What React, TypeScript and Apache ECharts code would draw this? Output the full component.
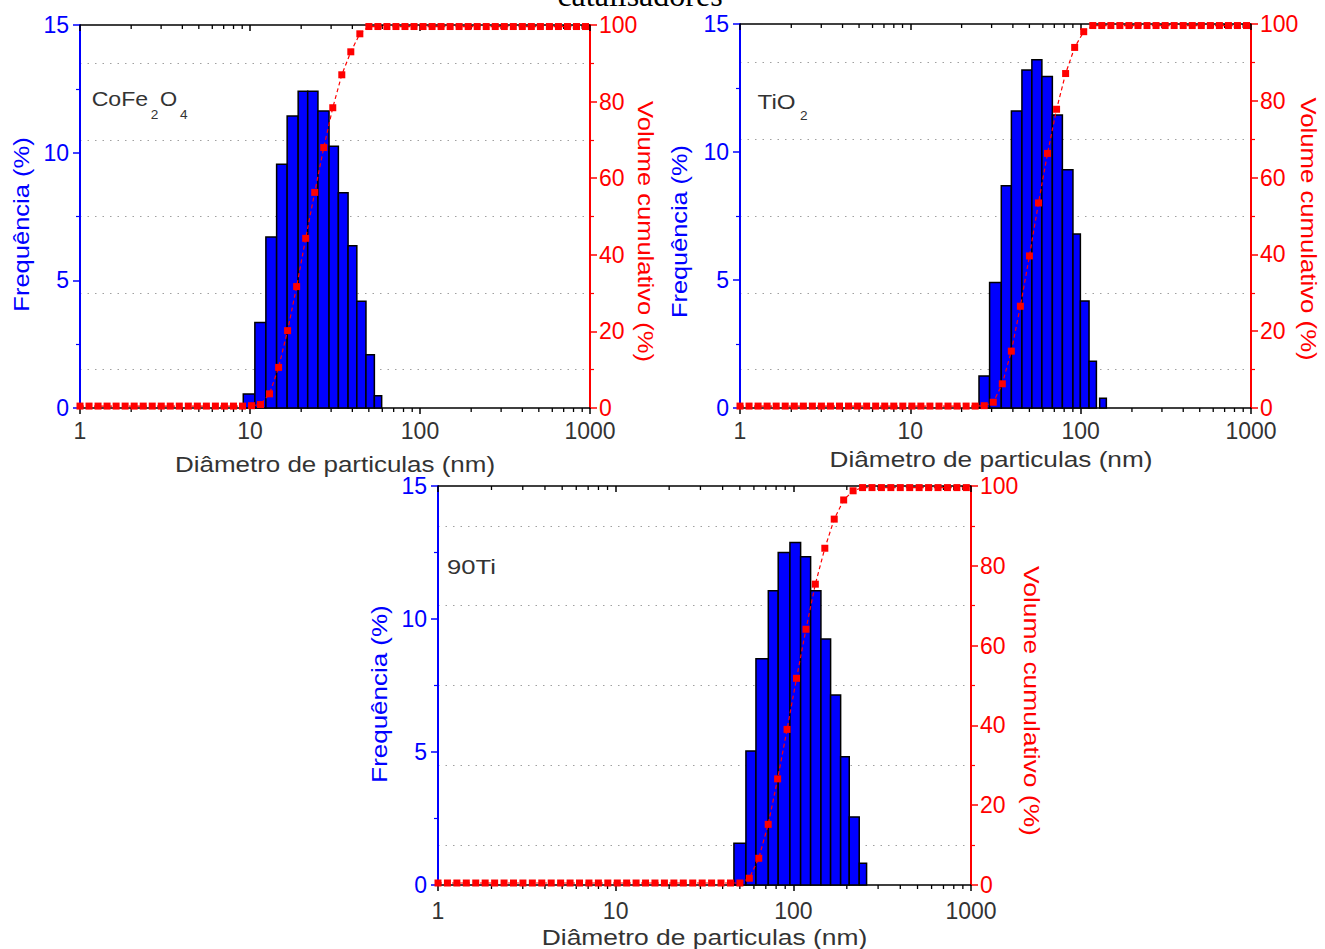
import React, { useEffect, useRef } from "react";
import * as echarts from "echarts";

// ---------- data ----------
// size classes (nm) of the cumulative volume curve (shared by all panels)
const SIZE_CLASSES = [1.0, 1.13, 1.277, 1.443, 1.631, 1.843, 2.083, 2.354, 2.66, 3.006, 3.396, 3.838, 4.337, 4.901, 5.539, 6.259, 7.073, 7.993, 9.033, 10.21, 11.53, 13.03, 14.73, 16.64, 18.81, 21.26, 24.02, 27.15, 30.68, 34.67, 39.17, 44.27, 50.03, 56.54, 63.89, 72.2, 81.59, 92.2, 104.2, 117.8, 133.0, 150.4, 169.9, 192.0, 217.0, 245.2, 277.1, 313.2, 353.9, 399.9, 451.9, 510.7, 577.1, 652.2, 737.0, 832.8, 941.1];

// CoFe2O4
const COFE_LO = [9.13, 10.68, 12.4, 14.34, 16.54, 19.2, 21.85, 25.1, 29.17, 33.1, 37.75, 42.5, 48.1, 53.9];
const COFE_HI = [10.68, 12.4, 14.34, 16.54, 19.2, 21.85, 25.1, 29.17, 33.1, 37.75, 42.5, 48.1, 53.9, 59.5];
const COFE_FREQ = [0.55, 3.35, 6.7, 9.55, 11.44, 12.41, 12.41, 11.63, 10.25, 8.43, 6.35, 4.18, 2.09, 0.48];
const COFE_CUM = [
  0.5, 0.5, 0.5, 0.5, 0.5, 0.5, 0.5, 0.5, 0.5, 0.5, 0.5, 0.5, 0.5, 0.5, 0.5, 0.5, 0.5, 0.5, 0.5,
  0.6, 0.9, 3.7, 10.6, 20.2, 31.7, 44.3, 56.3, 68.0, 78.4, 87.0, 93.0, 97.7, 99.6,
  99.6, 99.6, 99.6, 99.6, 99.6, 99.6, 99.6, 99.6, 99.6, 99.6, 99.6, 99.6,
  99.6, 99.6, 99.6, 99.6, 99.6, 99.6, 99.6, 99.6, 99.6, 99.6, 99.6, 99.6,
];

// TiO2
const TIO2_LO = [25.3, 29.2, 34.2, 39.2, 45.2, 51.7, 59.2, 68.2, 78.1, 90.1, 99.6, 112, 129.3];
const TIO2_HI = [29.2, 34.2, 39.2, 45.2, 51.7, 59.2, 68.2, 78.1, 90.1, 99.6, 112, 123.7, 141.5];
const TIO2_FREQ = [1.25, 4.9, 8.68, 11.6, 13.2, 13.6, 12.95, 11.45, 9.31, 6.8, 4.18, 1.83, 0.38];
const TIO2_CUM = [
  0.5, 0.5, 0.5, 0.5, 0.5, 0.5, 0.5, 0.5, 0.5, 0.5, 0.5, 0.5, 0.5, 0.5, 0.5, 0.5, 0.5, 0.5, 0.5,
  0.5, 0.5, 0.5, 0.5, 0.5, 0.5, 0.5, 0.5,
  0.6, 1.5, 6.3, 14.8, 26.5, 39.6, 53.4, 66.3, 77.8, 87.1, 93.9, 98.0,
  99.6, 99.6, 99.6, 99.6, 99.6, 99.6, 99.6, 99.6, 99.6,
  99.6, 99.6, 99.6, 99.6, 99.6, 99.6, 99.6, 99.6, 99.6,
];

// 90Ti
const TI90_LO = [46.3, 54.1, 61.6, 72.3, 82.2, 95.7, 109.9, 125.1, 143, 162.1, 184.6, 206.4, 234.9];
const TI90_HI = [54.1, 61.6, 72.3, 82.2, 95.7, 109.9, 125.1, 143, 162.1, 184.6, 206.4, 234.9, 258.4];
const TI90_FREQ = [1.57, 5.04, 8.51, 11.06, 12.5, 12.88, 12.34, 11.06, 9.25, 7.14, 4.82, 2.56, 0.82];
const TI90_CUM = [
  0.5, 0.5, 0.5, 0.5, 0.5, 0.5, 0.5, 0.5, 0.5, 0.5, 0.5, 0.5, 0.5, 0.5, 0.5, 0.5, 0.5, 0.5, 0.5,
  0.5, 0.5, 0.5, 0.5, 0.5, 0.5, 0.5, 0.5, 0.5, 0.5, 0.5, 0.5, 0.5, 0.5,
  1.7, 6.7, 15.2, 26.6, 39.0, 51.8, 64.1, 75.4, 84.4, 91.7, 96.5, 98.8,
  99.6, 99.6, 99.6, 99.6, 99.6, 99.6, 99.6, 99.6, 99.6, 99.6, 99.6, 99.6,
];

const X_MINOR_TICKS = [2, 3, 4, 5, 6, 7, 8, 9, 20, 30, 40, 50, 60, 70, 80, 90, 200, 300, 400, 500, 600, 700, 800, 900];

const TITLE = "catalisadores";
const X_NAME = "Diâmetro de particulas (nm)";
const Y_LEFT_NAME = "Frequência (%)";
const Y_RIGHT_NAME = "Volume cumulativo (%)";

// ---------- styling / layout ----------
const FONT = '"Liberation Sans", Arial, Helvetica, sans-serif';
const BLUE = "#0000FF";
const RED = "#FF0000";
const DARK = "#333333";

const PANELS = [
  {
    grid: { left: 80, top: 25, width: 510, height: 383 },
    xMargin: 11,
    lo: COFE_LO, hi: COFE_HI, freq: COFE_FREQ, cum: COFE_CUM,
    xName: { x: 335, y: 464, sx: 1.18 },
    yL: { x: 21, y: 224.5, sx: 1.16 },
    yR: { x: 646, y: 231.5, sx: 1.16 },
  },
  {
    grid: { left: 740, top: 24, width: 511, height: 384 },
    xMargin: 11,
    lo: TIO2_LO, hi: TIO2_HI, freq: TIO2_FREQ, cum: TIO2_CUM,
    xName: { x: 991, y: 459, sx: 1.19 },
    yL: { x: 680, y: 231.5, sx: 1.15 },
    yR: { x: 1309, y: 229, sx: 1.17 },
  },
  {
    grid: { left: 438, top: 486, width: 533, height: 399 },
    xMargin: 14,
    lo: TI90_LO, hi: TI90_HI, freq: TI90_FREQ, cum: TI90_CUM,
    xName: { x: 704.5, y: 937.5, sx: 1.2 },
    yL: { x: 379.5, y: 694, sx: 1.18 },
    yR: { x: 1032, y: 701, sx: 1.2 },
  },
];

function nameText(text: string, x: number, y: number, rot: number, sx: number, color: string) {
  return {
    type: "text",
    x,
    y,
    rotation: rot,
    scaleX: sx,
    silent: true,
    style: {
      text,
      fontSize: 22,
      fontFamily: FONT,
      fill: color,
      align: "center",
      verticalAlign: "middle",
    },
  };
}

function plainText(text: string, x: number, y: number, size: number, sx: number, color = DARK) {
  return {
    type: "text",
    x,
    y,
    scaleX: sx,
    silent: true,
    style: { text, fontSize: size, fontFamily: FONT, fill: color, align: "left", verticalAlign: "middle" },
  };
}

function buildOption() {
  const grid: any[] = [];
  const xAxis: any[] = [];
  const yAxis: any[] = [];
  const series: any[] = [];
  const graphic: any[] = [];

  PANELS.forEach((p, i) => {
    grid.push({ ...p.grid, containLabel: false });
    xAxis.push({
      type: "log",
      logBase: 10,
      min: 1,
      max: 1000,
      gridIndex: i,
      position: "bottom",
      axisLine: { show: true, onZero: false, lineStyle: { color: "#000", width: 1.5 } },
      axisTick: { show: true, length: 6, lineStyle: { color: "#000", width: 1.5 } },
      axisLabel: {
        show: true,
        fontSize: 23,
        fontFamily: FONT,
        color: DARK,
        margin: p.xMargin,
        formatter: (v: number) => String(Math.round(v)),
      },
      splitLine: { show: false },
    });
    xAxis.push({
      type: "log",
      logBase: 10,
      min: 1,
      max: 1000,
      gridIndex: i,
      position: "top",
      axisLine: { show: true, onZero: false, lineStyle: { color: "#000", width: 1.5 } },
      axisTick: { show: true, inside: true, length: 6, lineStyle: { color: "#000", width: 1.5 } },
      axisLabel: { show: false },
      splitLine: { show: false },
    });
    yAxis.push({
      type: "value",
      gridIndex: i,
      position: "left",
      min: 0,
      max: 15,
      interval: 5,
      axisLine: { show: true, onZero: false, lineStyle: { color: BLUE, width: 2 } },
      axisTick: { show: true, length: 7, lineStyle: { color: BLUE, width: 1.5 } },
      minorTick: { show: true, splitNumber: 2, length: 4, lineStyle: { color: BLUE, width: 1.2 } },
      axisLabel: { color: BLUE, fontSize: 23, fontFamily: FONT, margin: 11 },
      splitLine: { show: false },
    });
    yAxis.push({
      type: "value",
      gridIndex: i,
      position: "right",
      min: 0,
      max: 100,
      interval: 20,
      axisLine: { show: true, onZero: false, lineStyle: { color: RED, width: 2 } },
      axisTick: { show: true, length: 7, lineStyle: { color: RED, width: 1.5 } },
      minorTick: { show: true, splitNumber: 2, length: 4, lineStyle: { color: RED, width: 1.2 } },
      minorSplitLine: { show: true, lineStyle: { color: "#a0a0a0", width: 1, type: [1.5, 6] } },
      axisLabel: { color: RED, fontSize: 23, fontFamily: FONT, margin: 9 },
      splitLine: { show: false },
    });

    // histogram bars
    series.push({
      type: "custom",
      xAxisIndex: 2 * i,
      yAxisIndex: 2 * i,
      z: 3,
      silent: true,
      encode: { x: [0, 1], y: 2 },
      data: p.freq.map((f, k) => [p.lo[k], p.hi[k], f]),
      renderItem: (_params: any, api: any) => {
        const a = api.coord([api.value(0), api.value(2)]);
        const b = api.coord([api.value(1), 0]);
        return {
          type: "rect",
          shape: { x: a[0], y: a[1], width: b[0] - a[0], height: b[1] - a[1] },
          style: { fill: BLUE, stroke: "#000", lineWidth: 1.5 },
        };
      },
    });

    // log minor ticks (bottom outward, top inward)
    series.push({
      type: "custom",
      xAxisIndex: 2 * i,
      yAxisIndex: 2 * i,
      z: 4,
      silent: true,
      encode: { x: 0, y: 1 },
      data: X_MINOR_TICKS.map((v) => [v, 0]),
      renderItem: (_params: any, api: any) => {
        const v = api.value(0);
        const b = api.coord([v, 0]);
        const t = api.coord([v, 15]);
        return {
          type: "group",
          children: [
            { type: "line", shape: { x1: b[0], y1: b[1], x2: b[0], y2: b[1] + 4 }, style: { stroke: "#000", lineWidth: 1.3 } },
            { type: "line", shape: { x1: t[0], y1: t[1], x2: t[0], y2: t[1] + 4 }, style: { stroke: "#000", lineWidth: 1.3 } },
          ],
        };
      },
    });

    // cumulative volume
    series.push({
      type: "line",
      xAxisIndex: 2 * i,
      yAxisIndex: 2 * i + 1,
      z: 6,
      silent: true,
      clip: false,
      data: SIZE_CLASSES.map((s, k) => [s, p.cum[k]]),
      symbol: "rect",
      symbolSize: 7,
      showSymbol: true,
      showAllSymbol: true,
      itemStyle: { color: RED },
      lineStyle: { color: RED, width: 1.2, type: [4, 3] },
    });

    graphic.push(nameText(X_NAME, p.xName.x, p.xName.y, 0, p.xName.sx, DARK));
    graphic.push(nameText(Y_LEFT_NAME, p.yL.x, p.yL.y, Math.PI / 2, p.yL.sx, BLUE));
    graphic.push(nameText(Y_RIGHT_NAME, p.yR.x, p.yR.y, -Math.PI / 2, p.yR.sx, RED));
  });

  // cut-off caption above the figure
  graphic.push({
    type: "text",
    x: 640,
    y: -5,
    silent: true,
    style: {
      text: TITLE,
      fontSize: 32,
      fontFamily: '"Liberation Serif", "Times New Roman", serif',
      fill: "#000",
      align: "center",
      verticalAlign: "middle",
    },
  });

  // sample labels
  graphic.push(plainText("CoFe", 91.7, 99.2, 21, 1.1));
  graphic.push(plainText("2", 150.7, 114.5, 13, 1.05));
  graphic.push(plainText("O", 160, 99.2, 21, 1.05));
  graphic.push(plainText("4", 180, 114.5, 13, 1.05));

  graphic.push(plainText("TiO", 757.6, 102, 21, 1.15));
  graphic.push(plainText("2", 800, 115.5, 13, 1.05));

  graphic.push(plainText("90Ti", 447, 566.5, 21, 1.22));

  return {
    animation: false,
    backgroundColor: "#ffffff",
    grid,
    xAxis,
    yAxis,
    series,
    graphic,
  };
}

export default function App() {
  const ref = useRef<HTMLDivElement>(null);
  useEffect(() => {
    if (!ref.current) return;
    const chart = echarts.init(ref.current, undefined, { renderer: "svg" });
    chart.setOption(buildOption() as any);
    return () => {
      chart.dispose();
    };
  }, []);
  return (
    <div
      ref={ref}
      style={{ position: "absolute", left: 0, top: 0, width: 1325, height: 949 }}
    />
  );
}
